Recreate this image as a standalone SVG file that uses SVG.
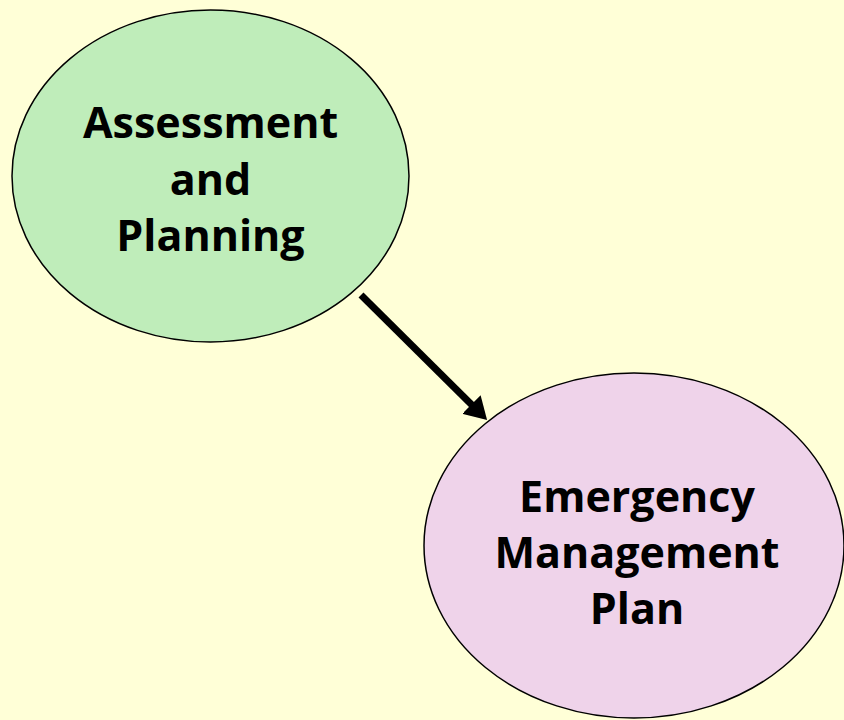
<svg xmlns="http://www.w3.org/2000/svg" width="844" height="720" viewBox="0 0 844 720">
  <style>
    .node { stroke: #000; stroke-width: 1.5; }
    .lbl { font-family: "Open Sans", "DejaVu Sans", sans-serif; font-weight: 700; font-size: 43px; fill: #000; text-anchor: middle; }
    .conn { stroke: #000; stroke-width: 7; fill: none; }
  </style>
  <defs>
    <marker id="arrow" markerUnits="userSpaceOnUse" markerWidth="22" markerHeight="26" viewBox="0 0 22 26" refX="6.4" refY="13" orient="auto">
      <path d="M0,0 L22,13 L0,26 z" fill="#000"/>
    </marker>
  </defs>
  <rect x="0" y="0" width="844" height="720" fill="#FFFFD7"/>
  <g id="connectors">
    <line class="conn" x1="361" y1="295" x2="476" y2="409" marker-end="url(#arrow)"/>
  </g>
  <g id="node-assessment">
    <ellipse class="node" cx="210.5" cy="176" rx="198.5" ry="166" fill="#BFEDBA"/>
    <text class="lbl" x="210.5" y="138">Assessment</text>
    <text class="lbl" x="210.5" y="195">and</text>
    <text class="lbl" x="210.5" y="251">Planning</text>
  </g>
  <g id="node-plan">
    <ellipse class="node" cx="634" cy="545.5" rx="210" ry="172.5" fill="#EFD3EA"/>
    <text class="lbl" x="637" y="512">Emergency</text>
    <text class="lbl" x="637" y="568">Management</text>
    <text class="lbl" x="637" y="624">Plan</text>
  </g>
</svg>
